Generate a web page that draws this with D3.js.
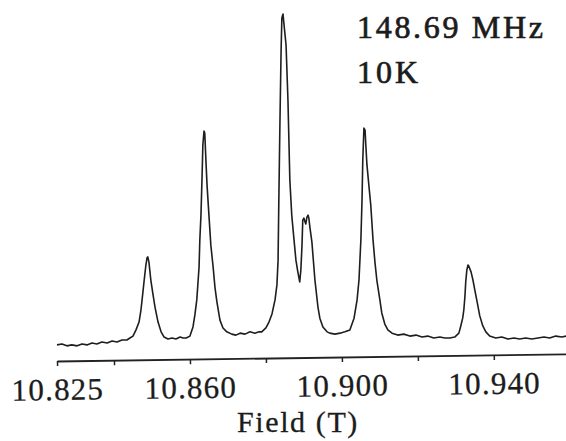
<!DOCTYPE html>
<html>
<head>
<meta charset="utf-8">
<script src="https://cdn.jsdelivr.net/npm/d3@7"></script>
<style>
  html, body { margin: 0; padding: 0; background: #fff; }
  svg { display: block; }
  text { font-family: "Liberation Serif", "Times New Roman", serif; fill: #1c1c1c; }
</style>
</head>
<body>
<div id="chart"></div>
<script>
// field (T) of each sample of the trace
const fieldT = [
  10.8250, 10.8263, 10.8276, 10.8289, 10.8303, 10.8316, 10.8329, 10.8342, 10.8355, 10.8368,
  10.8382, 10.8395, 10.8408, 10.8421, 10.8434,
  10.8442, 10.8450, 10.8458, 10.8466, 10.8471, 10.8474, 10.8479, 10.8484, 10.8487, 10.8489,
  10.8492, 10.8497, 10.8503, 10.8508, 10.8516, 10.8524, 10.8532, 10.8542, 10.8553, 10.8563,
  10.8574, 10.8582,
  10.8590, 10.8600, 10.8608, 10.8613, 10.8618, 10.8624, 10.8626, 10.8629, 10.8632, 10.8634,
  10.8637, 10.8639, 10.8642, 10.8645, 10.8650, 10.8655, 10.8661, 10.8666, 10.8671, 10.8679,
  10.8687, 10.8697, 10.8710, 10.8721, 10.8732, 10.8745, 10.8758, 10.8771, 10.8782,
  10.8789, 10.8800, 10.8808, 10.8816, 10.8824, 10.8829, 10.8832, 10.8834, 10.8837, 10.8840,
  10.8842, 10.8845, 10.8847, 10.8853, 10.8858, 10.8863, 10.8868, 10.8874, 10.8879, 10.8884,
  10.8889, 10.8892, 10.8895, 10.8897, 10.8900, 10.8903, 10.8905, 10.8908, 10.8911, 10.8913,
  10.8916, 10.8921, 10.8929, 10.8937, 10.8942, 10.8950, 10.8961, 10.8968, 10.8982, 10.8995,
  10.9008,
  10.9021, 10.9032, 10.9040, 10.9045, 10.9050, 10.9053, 10.9055, 10.9058, 10.9061, 10.9063,
  10.9066, 10.9071, 10.9076, 10.9082, 10.9087, 10.9092, 10.9100, 10.9105, 10.9113, 10.9121,
  10.9132, 10.9147, 10.9163, 10.9179, 10.9195, 10.9211, 10.9226, 10.9242, 10.9258, 10.9271,
  10.9284,
  10.9297, 10.9308, 10.9313, 10.9318, 10.9321, 10.9324, 10.9326, 10.9329, 10.9332, 10.9334,
  10.9340, 10.9345, 10.9350, 10.9355, 10.9363, 10.9371, 10.9379, 10.9389, 10.9405, 10.9421,
  10.9437, 10.9453, 10.9468, 10.9484, 10.9500, 10.9516, 10.9532, 10.9547, 10.9563, 10.9579,
  10.9590
];

// NMR signal, arbitrary units (tallest peak = 100)
const signal = [
  -1.5, -1.2, -1.8, -1.5, -1.8, -1.2, -1.5, -0.9, -1.2, -0.6,
  -0.9, -0.3, -0.6, 0, 0,
  0.6, 1.2, 3.1, 5.5, 9.2, 12.3, 17.8, 23.0, 25.2, 25.5,
  23.9, 18.4, 13.8, 10.1, 5.5, 2.5, 0.9, 0.3, 0.6, 0.3,
  0.9, 0.6,
  0.6, 1.2, 4.0, 7.7, 12.3, 22.4, 30.7, 38.3, 50.6, 59.8,
  64.1, 63.5, 55.2, 47.5, 38.3, 29.1, 22.4, 16.0, 11.7, 6.1,
  3.7, 2.5, 1.8, 1.5, 2.1, 1.8, 2.5, 2.1, 2.5,
  2.5, 3.7, 5.5, 8.0, 12.3, 16.9, 24.5, 42.9, 67.5, 89.0,
  98.8, 100, 97.5, 90.5, 73.6, 49.1, 38.3, 30.7, 24.5, 20.9,
  17.8, 21.5, 29.1, 36.8, 37.4, 36.2, 35.6, 37.7, 38.3, 37.4,
  34.4, 30.1, 18.4, 10.1, 6.7, 4.0, 2.5, 2.1, 1.8, 2.1,
  2.5,
  3.1, 6.7, 12.3, 18.4, 30.7, 42.9, 55.2, 65.0, 64.4, 59.8,
  53.7, 47.5, 41.4, 30.7, 23.9, 18.4, 12.3, 8.3, 4.9, 3.1,
  2.1, 1.5, 1.8, 1.2, 1.5, 0.9, 1.2, 0.6, 0.9, 0.6,
  0.6,
  0.9, 2.1, 4.3, 6.7, 9.2, 13.5, 17.8, 21.5, 23.0, 22.7,
  20.9, 18.4, 15.3, 12.3, 7.4, 4.3, 2.5, 1.2, 0.6, 0.9,
  0.3, 0.6, 0.3, 0.6, 0.3, 0.6, 0.9, 0.6, 1.2, 0.9,
  1.2
];

const tickValues = [10.825, 10.84, 10.86, 10.88, 10.90, 10.92, 10.94, 10.96];
const tickLabels = [10.825, 10.86, 10.90, 10.94];
const annotation = ['148.69 MHz', '10K'];
const xTitle = 'Field (T)';

const width = 566, height = 441;

const svg = d3.select('#chart')
    .append('svg')
    .attr('width', width)
    .attr('height', height);

const x = d3.scaleLinear()
    .domain([10.825, 10.959])
    .range([57, 566]);

const y = d3.scaleLinear()
    .domain([0, 100])
    .range([340, 14]);

const data = fieldT.map((f, i) => ({ field: f, value: signal[i] }));

// axis, slightly tilted like the scanned figure
const axisY = 361;
const xAxis = d3.axisBottom(x)
    .tickValues(tickValues)
    .tickSizeInner(5)
    .tickSizeOuter(0)
    .tickFormat(d => tickLabels.some(t => Math.abs(t - d) < 1e-9) ? d3.format('.3f')(d) : '');

const gx = svg.append('g')
    .attr('transform', `translate(0,${axisY}) rotate(-0.8,57,0)`)
    .call(xAxis);

gx.select('.domain').attr('stroke', '#222').attr('stroke-width', 1.8);
gx.selectAll('.tick line').attr('stroke', '#222').attr('stroke-width', 1.5);
gx.selectAll('.tick text')
    .attr('y', 39)
    .attr('dy', 0)
    .attr('font-size', 31)
    .attr('letter-spacing', '1.2px')
    .style('font-family', '"Liberation Serif", "Times New Roman", serif')
    .attr('fill', '#1c1c1c')
    .attr('stroke', '#1c1c1c')
    .attr('stroke-width', 0.3);

// axis title
svg.append('text')
    .attr('x', 298)
    .attr('y', 432)
    .attr('text-anchor', 'middle')
    .attr('font-size', 30)
    .attr('letter-spacing', '1.6px')
    .attr('stroke', '#1c1c1c')
    .attr('stroke-width', 0.3)
    .text(xTitle);

// spectrum
svg.append('path')
    .datum(data)
    .attr('fill', 'none')
    .attr('stroke', '#1e1e1e')
    .attr('stroke-width', 1.6)
    .attr('stroke-linejoin', 'round')
    .attr('d', d3.line()
        .x(d => x(d.field))
        .y(d => y(d.value))
    );

// frequency / temperature note
svg.selectAll('.note')
    .data(annotation)
    .enter()
    .append('text')
    .attr('class', 'note')
    .attr('x', 357)
    .attr('y', (d, i) => 38 + i * 45)
    .attr('font-size', 32)
    .attr('textLength', (d, i) => i === 0 ? 186 : 61)
    .attr('lengthAdjust', 'spacing')
    .attr('stroke', '#1c1c1c')
    .attr('stroke-width', 0.7)
    .text(d => d);
</script>
</body>
</html>
